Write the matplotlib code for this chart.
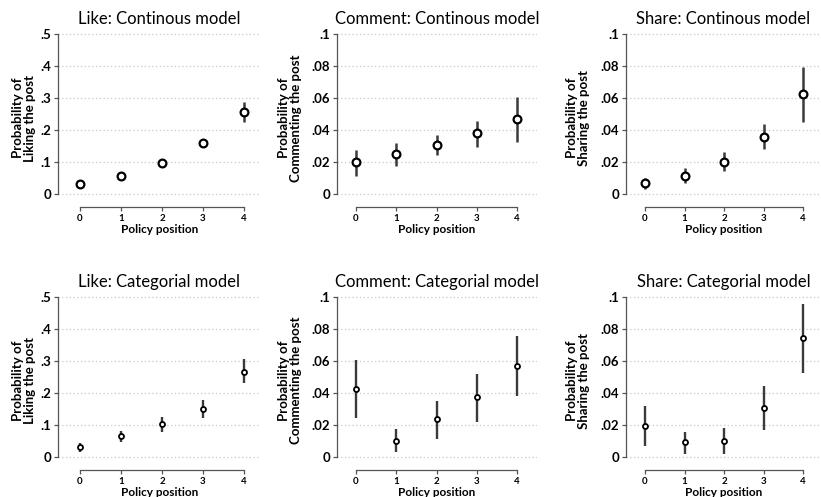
import matplotlib
matplotlib.use("Agg")
import matplotlib.pyplot as plt
from matplotlib.ticker import FixedLocator

plt.rcParams['font.family'] = ['Lato', 'DejaVu Sans']

positions = [0, 1, 2, 3, 4]
xtick_labels = ["0", "1", "2", "3", "4"]

like_cont = [0.031, 0.056, 0.096, 0.160, 0.256]
like_cont_lo = [0.027, 0.051, 0.090, 0.153, 0.226]
like_cont_hi = [0.035, 0.061, 0.102, 0.167, 0.286]

comment_cont = [0.0198, 0.0248, 0.0306, 0.0379, 0.0469]
comment_cont_lo = [0.0115, 0.0175, 0.0242, 0.0296, 0.0327]
comment_cont_hi = [0.0275, 0.0317, 0.0367, 0.0458, 0.0608]

share_cont = [0.0067, 0.0113, 0.0202, 0.0358, 0.0623]
share_cont_lo = [0.0033, 0.0067, 0.0146, 0.0280, 0.0452]
share_cont_hi = [0.0098, 0.0160, 0.0260, 0.0435, 0.0796]

like_cat = [0.029, 0.065, 0.102, 0.149, 0.266]
like_cat_lo = [0.016, 0.047, 0.078, 0.120, 0.229]
like_cat_hi = [0.044, 0.080, 0.125, 0.177, 0.304]

comment_cat = [0.0423, 0.0100, 0.0233, 0.0373, 0.0567]
comment_cat_lo = [0.0240, 0.0031, 0.0108, 0.0219, 0.0379]
comment_cat_hi = [0.0604, 0.0173, 0.0350, 0.0520, 0.0754]

share_cat = [0.0194, 0.0090, 0.0100, 0.0306, 0.0740]
share_cat_lo = [0.0067, 0.0020, 0.0020, 0.0167, 0.0525]
share_cat_hi = [0.0317, 0.0156, 0.0177, 0.0444, 0.0952]

titles = [["Like: Continous model", "Comment: Continous model", "Share: Continous model"],
          ["Like: Categorial model", "Comment: Categorial model", "Share: Categorial model"]]
ylabels = ["Probability of\nLiking the post", "Probability of\nCommenting the post",
           "Probability of\nSharing the post"]
xlabel = "Policy position"

like_ticks = [0, 0.1, 0.2, 0.3, 0.4, 0.5]
like_ticklabels = ["0", ".1", ".2", ".3", ".4", ".5"]
small_ticks = [0, 0.02, 0.04, 0.06, 0.08, 0.1]
small_ticklabels = ["0", ".02", ".04", ".06", ".08", ".1"]

data = [[(like_cont, like_cont_lo, like_cont_hi),
         (comment_cont, comment_cont_lo, comment_cont_hi),
         (share_cont, share_cont_lo, share_cont_hi)],
        [(like_cat, like_cat_lo, like_cat_hi),
         (comment_cat, comment_cat_lo, comment_cat_hi),
         (share_cat, share_cat_lo, share_cat_hi)]]
yticks = [(like_ticks, like_ticklabels), (small_ticks, small_ticklabels), (small_ticks, small_ticklabels)]

W, H = 821, 497
fig = plt.figure(figsize=(W / 100, H / 100), dpi=100)

# column layout: left spine px, px of x=0, px of x=4, right edge px
cols = [(58, 80, 244, 261), (337, 356, 517, 537), (626, 645, 803, 821)]
# row layout: px of y=0, px of y=max
rows = [(194, 34), (456.7, 296.7)]
ylab_x = [24, 290, 578]

for r in range(2):
    y0px, ytpx = rows[r]
    for c in range(3):
        lpx, x0px, x4px, rpx = cols[c]
        ticks, tlabels = yticks[c]
        ymax = ticks[-1]
        ppu_y = (y0px - ytpx) / ymax
        ylo = -0.03 * ymax
        yhi = 1.01 * ymax
        bottom_px = y0px - ylo * ppu_y
        top_px = y0px - yhi * ppu_y
        ppu_x = (x4px - x0px) / 4
        xlo = (lpx - x0px) / ppu_x
        xhi = (rpx - x0px) / ppu_x
        ax = fig.add_axes([lpx / W, 1 - bottom_px / H, (rpx - lpx) / W, (bottom_px - top_px) / H])
        ax.set_xlim(xlo, xhi)
        ax.set_ylim(ylo, yhi)

        vals, lo, hi = data[r][c]
        yerr = [[v - l for v, l in zip(vals, lo)], [h - v for v, h in zip(vals, hi)]]
        if r == 0:
            ms, mew, elw = 5.6, 1.6, 1.8
        else:
            ms, mew, elw = 3.6, 1.3, 1.7
        ax.errorbar(positions, vals, yerr=yerr, fmt='none', ecolor='#3a3a3a', elinewidth=elw, capsize=0, zorder=3)
        ax.plot(positions, vals, 'o', ms=ms, mfc='white', mec='black', mew=mew, zorder=4, clip_on=False)

        for t in ticks:
            ax.axhline(t, color='#c8c8c8', lw=0.9, ls=(0, (1, 2)), zorder=1)

        for s in ['top', 'right']:
            ax.spines[s].set_visible(False)
        ax.spines['left'].set_bounds(0, ymax)
        ax.spines['bottom'].set_bounds(0, 4)
        ax.spines['bottom'].set_position(('outward', 6))
        for s in ['left', 'bottom']:
            ax.spines[s].set_color('#555555')
            ax.spines[s].set_linewidth(0.9)

        ax.yaxis.set_major_locator(FixedLocator(ticks))
        ax.set_yticklabels(tlabels, fontsize=9.5, fontweight='bold')
        ax.set_xticks(positions)
        ax.set_xticklabels(xtick_labels, fontsize=7, fontweight='bold')
        ax.tick_params(axis='both', length=3, width=0.9, color='#555555', pad=2)
        ax.tick_params(axis='x', pad=2)

        ax.set_xlabel(xlabel, fontsize=8.5, fontweight='bold', labelpad=1)
        ax.set_title(titles[r][c], fontsize=12, pad=6)

        fig.text(ylab_x[c] / W, 1 - (y0px + ytpx + 8) / 2 / H, ylabels[c], rotation=90,
                 ha='center', va='center', fontsize=9.5, fontweight='bold', linespacing=0.95)

fig.savefig("out.png", dpi=100, facecolor='white')
